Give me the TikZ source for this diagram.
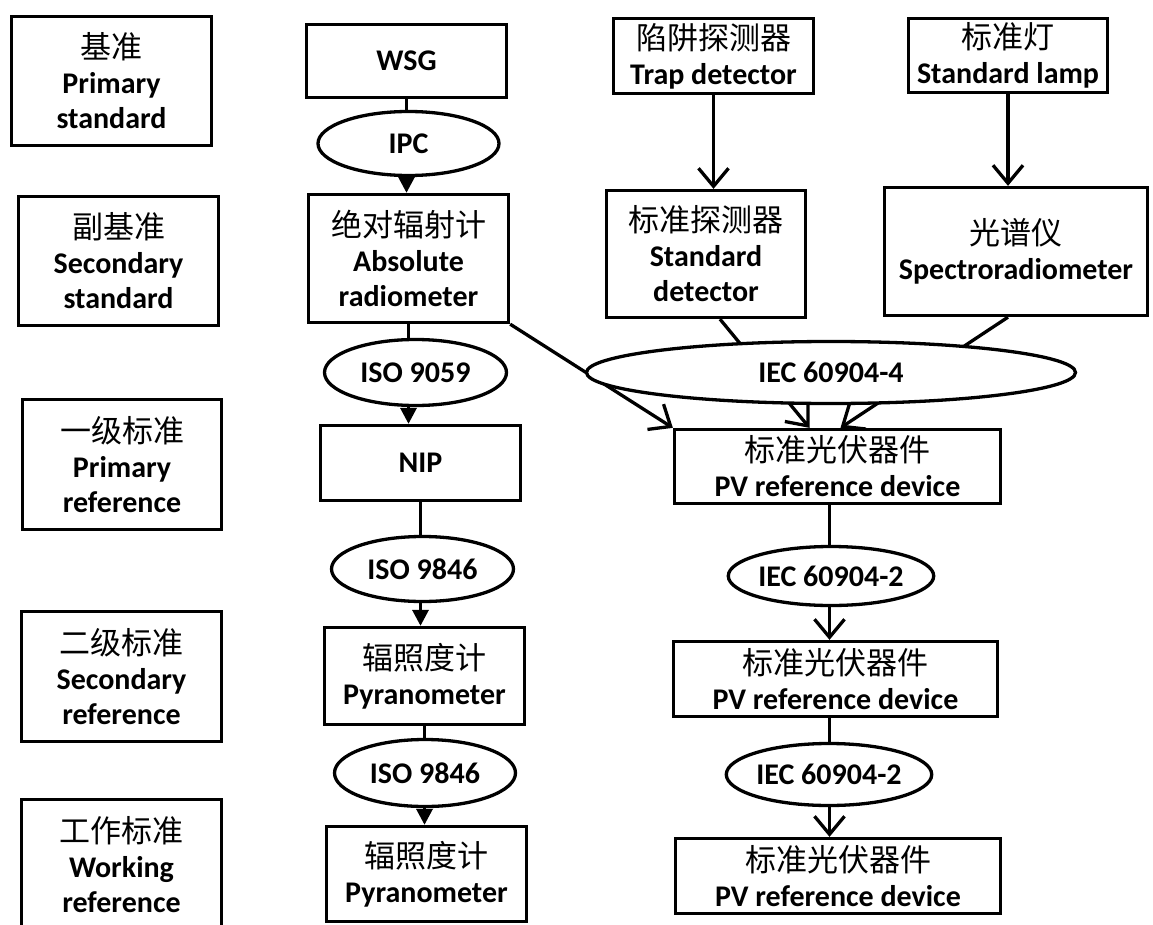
\documentclass[tikz,border=0pt]{standalone}
\usepackage{fontspec}
\setmainfont{Carlito}
\newfontfamily\cjkfont{Noto Sans CJK SC}
\newcommand{\zhtext}[1]{{\normalfont\cjkfont\fontsize{31}{35}\selectfont #1}}
\usetikzlibrary{shapes.geometric,arrows.meta,backgrounds,calc}
\begin{document}
\begin{tikzpicture}[x=1pt,y=-1pt,
  box/.style={draw,line width=3.3pt,fill=white,align=center,inner sep=0pt,
    font=\fontsize{30}{35}\selectfont\bfseries},
  oval/.style={ellipse,draw,line width=3.3pt,fill=white,inner sep=0pt,
    font=\fontsize{30}{35}\selectfont\bfseries},
  conn/.style={line width=3.3pt},
  tri/.style={conn,-{Triangle[width=16pt,length=16pt]}},
  vee/.style={conn,-{Straight Barb[width=30pt,length=18pt]}},
]
\useasboundingbox (0,0) rectangle (1153,925);

% left column: levels
\node[box,minimum width=200pt,minimum height=129pt] (L1) at (111.5,81)
  {\zhtext{基准}\\Primary\\standard};
\node[box,minimum width=200pt,minimum height=129pt] (L2) at (118.5,261)
  {\zhtext{副基准}\\Secondary\\standard};
\node[box,minimum width=199pt,minimum height=130pt] (L3) at (122,464.5)
  {\zhtext{一级标准}\\Primary\\reference};
\node[box,minimum width=200pt,minimum height=130pt] (L4) at (121.5,676.5)
  {\zhtext{二级标准}\\Secondary\\reference};
\node[box,minimum width=200pt,minimum height=130pt] (L5) at (121.5,864.5)
  {\zhtext{工作标准}\\Working\\reference};

% middle column
\node[box,minimum width=200pt,minimum height=73pt] (WSG) at (406.5,61) {WSG};
\node[oval,minimum width=181pt,minimum height=64pt] (IPC) at (408.5,143.5) {IPC};
\node[box,minimum width=200pt,minimum height=128pt] (Abs) at (408.5,258.5)
  {\zhtext{绝对辐射计}\\Absolute\\radiometer};
\node[oval,minimum width=182pt,minimum height=66pt] (ISOa) at (415.5,372.5) {ISO 9059};
\node[box,minimum width=200pt,minimum height=75pt] (NIP) at (420.5,463) {NIP};
\node[oval,minimum width=182pt,minimum height=65pt] (ISOb) at (422.5,569) {ISO 9846};
\node[box,minimum width=200pt,minimum height=97pt] (Pyr1) at (424.5,676)
  {\zhtext{辐照度计}\\Pyranometer};
\node[oval,minimum width=181pt,minimum height=67pt] (ISOc) at (425,773) {ISO 9846};
\node[box,minimum width=200pt,minimum height=95pt] (Pyr2) at (426.5,874)
  {\zhtext{辐照度计}\\Pyranometer};

% right columns
\node[box,minimum width=200pt,minimum height=75pt] (Trap) at (713.5,56)
  {\zhtext{陷阱探测器}\\Trap detector};
\node[box,minimum width=199pt,minimum height=127pt] (StdDet) at (706,254)
  {\zhtext{标准探测器}\\Standard\\detector};
\node[box,minimum width=199pt,minimum height=74pt] (Lamp) at (1008,55.5)
  {\zhtext{标准灯}\\Standard lamp};
\node[box,minimum width=263pt,minimum height=128pt] (Spectro) at (1016,251.5)
  {\zhtext{光谱仪}\\Spectroradiometer};
\node[oval,minimum width=489pt,minimum height=62pt] (IECa) at (831,372.5) {IEC 60904-4};
\node[box,minimum width=326pt,minimum height=74pt] (PV1) at (837.5,466.5)
  {\zhtext{标准光伏器件}\\PV reference device};
\node[oval,minimum width=181pt,minimum height=59pt] (IECb) at (831,576) {IEC 60904-2};
\node[box,minimum width=324pt,minimum height=75pt] (PV2) at (835.5,679)
  {\zhtext{标准光伏器件}\\PV reference device};
\node[oval,minimum width=181pt,minimum height=62pt] (IECc) at (829,774.5) {IEC 60904-2};
\node[box,minimum width=325pt,minimum height=75pt] (PV3) at (838,876)
  {\zhtext{标准光伏器件}\\PV reference device};

\begin{pgfonlayer}{background}
  \fill[white] (0,0) rectangle (1153,925);
  % left chain
  \draw[tri] (WSG.south) -- (WSG.south |- Abs.north);
  \draw[tri] (Abs.south) -- (Abs.south |- NIP.north);
  \draw[tri] (NIP.south) -- (NIP.south |- Pyr1.north);
  \draw[tri] (Pyr1.south) -- (Pyr1.south |- Pyr2.north);
  % top right
  \draw[vee] (Trap.south) -- (Trap.south |- StdDet.north);
  \draw[vee] (Lamp.south) -- (Lamp.south |- Spectro.north);
  % into PV reference device
  \draw[vee] (Abs.south east) -- (PV1.north west);
  \draw[vee] ($(StdDet.south)+(14,0)$) -- ($(PV1.north)+(-28,0)$);
  \draw[vee] ($(Spectro.south)+(-8,0)$) -- ($(PV1.north)+(3,0)$);
  % right chain
  \coordinate (p1) at ($(PV1.south)+(-8,0)$);
  \coordinate (p2) at ($(PV2.south)+(-6,0)$);
  \draw[vee] (p1) -- (p1 |- PV2.north);
  \draw[vee] (p2) -- (p2 |- PV3.north);
\end{pgfonlayer}
\end{tikzpicture}
\end{document}
